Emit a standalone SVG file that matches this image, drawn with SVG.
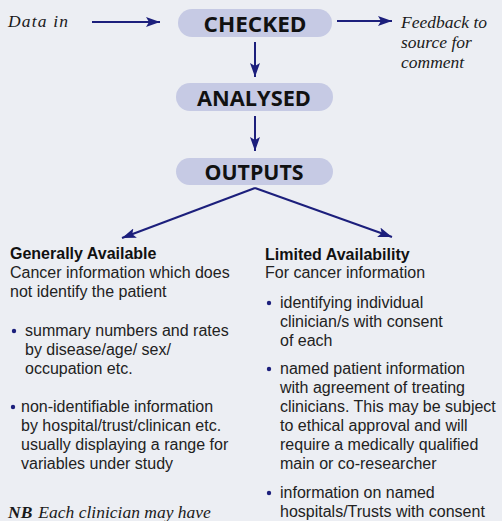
<svg xmlns="http://www.w3.org/2000/svg" width="502" height="521" viewBox="0 0 502 521">
<defs>
<marker id="ah" viewBox="0 0 14 10" refX="14" refY="5" markerWidth="14" markerHeight="10" markerUnits="userSpaceOnUse" orient="auto">
<path d="M0,0 L14,5 L0,10 L3,5 Z" fill="#1c1f7c"/>
</marker>
</defs>
<style>
.pill{fill:#c6cae4}
.pt{font-family:"Open Sans","DejaVu Sans",sans-serif;font-weight:bold;font-size:22px;fill:#111;text-anchor:middle}
.it{font-family:"Liberation Serif",serif;font-style:italic;font-size:17.5px;fill:#1a1a1a}
.b{font-family:"Liberation Sans",sans-serif;font-size:16px;fill:#222}
.h{font-family:"Liberation Sans",sans-serif;font-size:16px;font-weight:bold;fill:#111}
.c{stroke:#1c1f7c;stroke-width:2;fill:none}
.dot{fill:#1c1f7c}
</style>
<rect width="502" height="521" fill="#eceef3"/>
<g id="connectors">
<line class="c" x1="92" y1="22" x2="160" y2="22" marker-end="url(#ah)"/>
<line class="c" x1="337" y1="21" x2="392" y2="21" marker-end="url(#ah)"/>
<line class="c" x1="255" y1="42" x2="255" y2="77" marker-end="url(#ah)"/>
<line class="c" x1="255" y1="116" x2="255" y2="151" marker-end="url(#ah)"/>
<polyline class="c" points="255,188 122,238" marker-end="url(#ah)"/>
<polyline class="c" points="255,188 392,237" marker-end="url(#ah)"/>
</g>
<g id="data-in"><text class="it" x="8" y="27" textLength="60" lengthAdjust="spacing">Data in</text></g>
<g id="checked">
<rect class="pill" x="178" y="9" width="154" height="28" rx="14"/>
<text class="pt" x="255" y="32" textLength="103" lengthAdjust="spacingAndGlyphs">CHECKED</text>
</g>
<g id="feedback">
<text class="it" x="401" y="28">Feedback to</text>
<text class="it" x="401" y="48">source for</text>
<text class="it" x="401" y="68">comment</text>
</g>
<g id="analysed">
<rect class="pill" x="176" y="83" width="157" height="28" rx="14"/>
<text class="pt" x="254" y="106" textLength="114" lengthAdjust="spacingAndGlyphs">ANALYSED</text>
</g>
<g id="outputs">
<rect class="pill" x="176" y="158" width="157" height="27" rx="13.5"/>
<text class="pt" x="254" y="180" textLength="99" lengthAdjust="spacingAndGlyphs">OUTPUTS</text>
</g>
<g id="generally-available">
<text class="h" x="10" y="259">Generally Available</text>
<text class="b" x="10" y="278">Cancer information which does</text>
<text class="b" x="10" y="297">not identify the patient</text>
<circle class="dot" cx="14" cy="331" r="2.2"/>
<text class="b" x="25" y="336">summary numbers and rates</text>
<text class="b" x="25" y="355">by disease/age/ sex/</text>
<text class="b" x="25" y="374">occupation etc.</text>
<circle class="dot" cx="13" cy="407" r="2.2"/>
<text class="b" x="21" y="412">non-identifiable information</text>
<text class="b" x="21" y="431">by hospital/trust/clinican etc.</text>
<text class="b" x="21" y="450">usually displaying a range for</text>
<text class="b" x="21" y="469">variables under study</text>
</g>
<g id="nb">
<text class="it" x="8" y="518" font-size="18"><tspan font-weight="bold">NB</tspan><tspan dx="6">Each clinician may have</tspan></text>
</g>
<g id="limited-availability">
<text class="h" x="265" y="260">Limited Availability</text>
<text class="b" x="265" y="278">For cancer information</text>
<circle class="dot" cx="269" cy="303" r="2.2"/>
<text class="b" x="280" y="308">identifying individual</text>
<text class="b" x="280" y="327">clinician/s with consent</text>
<text class="b" x="280" y="346">of each</text>
<circle class="dot" cx="269" cy="369" r="2.2"/>
<text class="b" x="280" y="374">named patient information</text>
<text class="b" x="280" y="393">with agreement of treating</text>
<text class="b" x="280" y="412">clinicians. This may be subject</text>
<text class="b" x="280" y="431">to ethical approval and will</text>
<text class="b" x="280" y="450">require a medically qualified</text>
<text class="b" x="280" y="469">main or co-researcher</text>
<circle class="dot" cx="269" cy="493" r="2.2"/>
<text class="b" x="280" y="498">information on named</text>
<text class="b" x="280" y="517">hospitals/Trusts with consent</text>
</g>
</svg>
